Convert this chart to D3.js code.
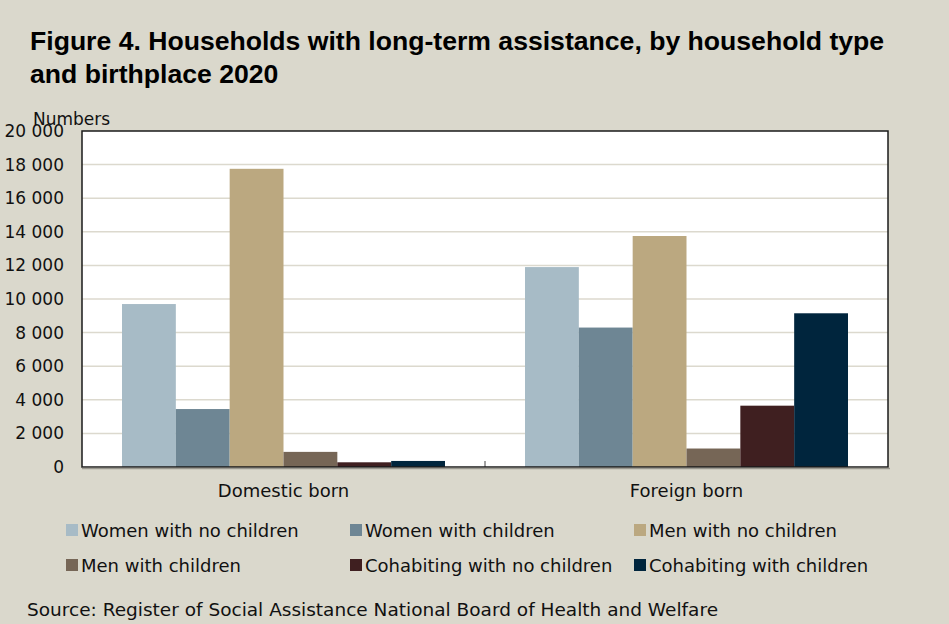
<!DOCTYPE html>
<html>
<head>
<meta charset="utf-8">
<script src="https://cdn.jsdelivr.net/npm/d3@7"></script>
<style>
  body { margin: 0; background: #dad8cc; }
  svg { display: block; }
</style>
</head>
<body>
<div id="chart"></div>
<script>
// categories and series
const categories = ["Domestic born", "Foreign born"];
const seriesNames = [
  "Women with no children", "Women with children", "Men with no children",
  "Men with children", "Cohabiting with no children", "Cohabiting with children"
];
const domesticValues = [9700, 3450, 17750, 900, 280, 360];
const foreignValues = [11900, 8300, 13750, 1100, 3650, 9150];
const seriesColors = ["#a7bbc6", "#6e8694", "#bba880", "#766656", "#3f1f20", "#00253d"];
const yTicks = [0, 2000, 4000, 6000, 8000, 10000, 12000, 14000, 16000, 18000, 20000];

const W = 949, H = 624;
const margin = {top: 131, right: 61, bottom: 157, left: 82};
const width = W - margin.left - margin.right,
      height = H - margin.top - margin.bottom;
const font = "DejaVu Sans";

const svg = d3.select("#chart").append("svg")
  .attr("width", W).attr("height", H)
  .style("background", "#dad8cc");

// title
svg.append("text").attr("x", 30).attr("y", 50)
  .attr("font-family", "Liberation Sans").attr("font-weight", "bold")
  .attr("font-size", 26.6).attr("fill", "#000")
  .text("Figure 4. Households with long-term assistance, by household type");
svg.append("text").attr("x", 30).attr("y", 83)
  .attr("font-family", "Liberation Sans").attr("font-weight", "bold")
  .attr("font-size", 26.6).attr("fill", "#000")
  .text("and birthplace 2020");

const g = svg.append("g").attr("transform", `translate(${margin.left},${margin.top})`);

const table = categories.map((c, i) => ({
  cat: c,
  values: (i === 0 ? domesticValues : foreignValues)
}));

const x0 = d3.scaleBand().domain(categories).range([0, width]).paddingInner(0).paddingOuter(0);
const x1 = d3.scaleBand().domain(seriesNames).range([40, x0.bandwidth() - 40]);
const y = d3.scaleLinear().domain([0, 20000]).range([height, 0]);

// plot background
g.append("rect").attr("width", width).attr("height", height).attr("fill", "#fff");

// gridlines
g.append("g").selectAll("line").data(yTicks.slice(1, -1)).join("line")
  .attr("x1", 0).attr("x2", width)
  .attr("y1", d => y(d)).attr("y2", d => y(d))
  .attr("stroke", "#dcd9ce").attr("stroke-width", 1.5);

// bars
g.append("g").selectAll("g").data(table).join("g")
  .attr("transform", d => `translate(${x0(d.cat)},0)`)
  .selectAll("rect").data(d => d.values.map((v, i) => ({name: seriesNames[i], v, i})))
  .join("rect")
  .attr("x", d => x1(d.name))
  .attr("width", x1.bandwidth())
  .attr("y", d => y(d.v))
  .attr("height", d => height - y(d.v))
  .attr("fill", d => seriesColors[d.i]);

// y axis labels
const yAxis = g.append("g").call(d3.axisLeft(y).tickValues(yTicks)
  .tickFormat(d => d3.format(",")(d).replace(/,/g, "\u00a0")).tickSize(0).tickPadding(18));
yAxis.select(".domain").remove();
yAxis.selectAll("text").attr("font-family", font).attr("font-size", 17).attr("fill", "#111");

// x axis
const xAxis = g.append("g").attr("transform", `translate(0,${height})`)
  .call(d3.axisBottom(x0).tickSize(0).tickPadding(17));
xAxis.select(".domain").remove();
xAxis.selectAll("text").attr("font-family", font).attr("font-size", 18).attr("fill", "#111");
// middle category tick
g.append("line").attr("x1", x0("Foreign born")).attr("x2", x0("Foreign born"))
  .attr("y1", height - 6).attr("y2", height).attr("stroke", "#444").attr("stroke-width", 1);

// plot frame
g.append("rect").attr("width", width).attr("height", height)
  .attr("fill", "none").attr("stroke", "#1a1a1a").attr("stroke-width", 1.5);
g.append("line").attr("x1", 0).attr("x2", width + 2).attr("y1", height + 1.5).attr("y2", height + 1.5)
  .attr("stroke", "#9a988f").attr("stroke-width", 1.5);

// axis title
svg.append("text").attr("x", 33).attr("y", 125)
  .attr("font-family", font).attr("font-size", 17).attr("fill", "#111")
  .text("Numbers");

// legend
const legendX = [66, 350, 634];
const legendY = [530, 565];
const legend = svg.append("g").selectAll("g").data(seriesNames).join("g")
  .attr("transform", (d, i) => `translate(${legendX[i % 3]},${legendY[Math.floor(i / 3)]})`);
legend.append("rect").attr("x", 0).attr("y", -6).attr("width", 12).attr("height", 12)
  .attr("fill", (d, i) => seriesColors[i]);
legend.append("text").attr("x", 15).attr("y", 6.5)
  .attr("font-family", font).attr("font-size", 18).attr("fill", "#111")
  .text(d => d);

// source
svg.append("text").attr("x", 27).attr("y", 616)
  .attr("font-family", font).attr("font-size", 18.5).attr("fill", "#111")
  .text("Source: Register of Social Assistance National Board of Health and Welfare");
</script>
</body>
</html>
